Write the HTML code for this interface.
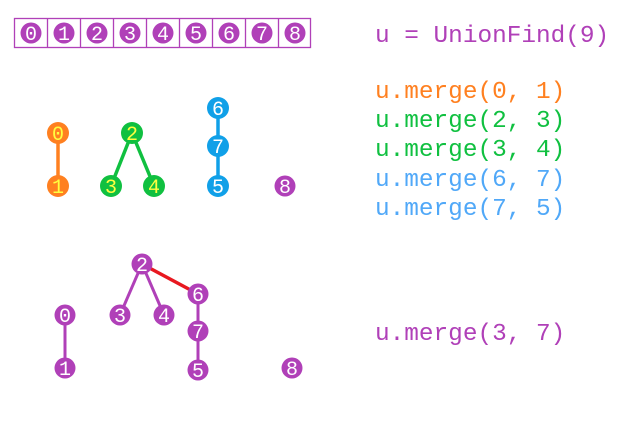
<!DOCTYPE html>
<html><head><meta charset="utf-8"><style>
html,body{margin:0;padding:0;background:#fff;width:633px;height:425px;overflow:hidden}
svg{display:block}
text{font-family:"Liberation Mono","DejaVu Sans Mono",monospace}
</style></head><body>
<svg width="633" height="425" viewBox="0 0 633 425" xmlns="http://www.w3.org/2000/svg">
<g fill="none" stroke="#b040b8" stroke-width="1.3">
<rect x="14.5" y="18.5" width="296" height="29"/>
<line x1="47.5" y1="18" x2="47.5" y2="48"/><line x1="80.5" y1="18" x2="80.5" y2="48"/>
<line x1="113.5" y1="18" x2="113.5" y2="48"/><line x1="146.5" y1="18" x2="146.5" y2="48"/>
<line x1="179.5" y1="18" x2="179.5" y2="48"/><line x1="212.5" y1="18" x2="212.5" y2="48"/>
<line x1="245.5" y1="18" x2="245.5" y2="48"/><line x1="278.5" y1="18" x2="278.5" y2="48"/>
</g>
<g fill="#b040b8">
<circle cx="31" cy="33" r="10.5"/><circle cx="64" cy="33" r="10.5"/><circle cx="97" cy="33" r="10.5"/>
<circle cx="130" cy="33" r="10.5"/><circle cx="163" cy="33" r="10.5"/><circle cx="196" cy="33" r="10.5"/>
<circle cx="229" cy="33" r="10.5"/><circle cx="262" cy="33" r="10.5"/><circle cx="295" cy="33" r="10.5"/>
</g>
<g fill="#fff" font-size="20" text-anchor="middle">
<text x="31" y="40">0</text><text x="64" y="40">1</text><text x="97" y="40">2</text>
<text x="130" y="40">3</text><text x="163" y="40">4</text><text x="196" y="40">5</text>
<text x="229" y="40">6</text><text x="262" y="40">7</text><text x="295" y="40">8</text>
</g>
<line x1="58" y1="133" x2="58" y2="186" stroke="#ff8020" stroke-width="3.5"/>
<line x1="132" y1="133" x2="111" y2="186" stroke="#10c040" stroke-width="3.5"/>
<line x1="132" y1="133" x2="154" y2="186" stroke="#10c040" stroke-width="3.5"/>
<line x1="218" y1="108" x2="218" y2="186" stroke="#10a0e8" stroke-width="3.5"/>
<g fill="#ff8020"><circle cx="58" cy="133" r="11"/><circle cx="58" cy="186" r="11"/></g>
<g fill="#10c040"><circle cx="132" cy="133" r="11"/><circle cx="111" cy="186" r="11"/><circle cx="154" cy="186" r="11"/></g>
<g fill="#10a0e8"><circle cx="218" cy="108" r="11"/><circle cx="218" cy="146" r="11"/><circle cx="218" cy="186" r="11"/></g>
<circle cx="285" cy="186" r="10.5" fill="#b040b8"/>
<g font-size="20" text-anchor="middle">
<text x="58" y="140" fill="#ffff40">0</text><text x="58" y="193" fill="#ffff40">1</text>
<text x="132" y="140" fill="#ffff40">2</text><text x="111" y="193" fill="#ffff40">3</text><text x="154" y="193" fill="#ffff40">4</text>
<text x="218" y="115" fill="#fff">6</text><text x="218" y="153" fill="#fff">7</text><text x="218" y="193" fill="#fff">5</text>
<text x="285" y="193" fill="#fff">8</text>
</g>
<g stroke="#b040b8" stroke-width="3">
<line x1="65" y1="315" x2="65" y2="368"/>
<line x1="142" y1="264" x2="120" y2="315"/><line x1="142" y1="264" x2="164" y2="315"/>
<line x1="198" y1="294" x2="198" y2="370"/>
</g>
<line x1="142" y1="264" x2="198" y2="294" stroke="#e81820" stroke-width="3.5"/>
<g fill="#b040b8">
<circle cx="142" cy="264" r="10.5"/><circle cx="120" cy="315" r="10.5"/><circle cx="164" cy="315" r="10.5"/>
<circle cx="198" cy="294" r="10.5"/><circle cx="198" cy="331" r="10.5"/><circle cx="198" cy="370" r="10.5"/>
<circle cx="65" cy="315" r="10.5"/><circle cx="65" cy="368" r="10.5"/><circle cx="292" cy="368" r="10.5"/>
</g>
<g fill="#fff" font-size="20" text-anchor="middle">
<text x="142" y="271">2</text><text x="120" y="322">3</text><text x="164" y="322">4</text>
<text x="198" y="301">6</text><text x="198" y="338">7</text><text x="198" y="377">5</text>
<text x="65" y="322">0</text><text x="65" y="375">1</text><text x="292" y="375">8</text>
</g>
<g font-size="24.4" xml:space="preserve">
<text x="375" y="42" fill="#b040b8">u = UnionFind(9)</text>
<text x="375" y="98" fill="#ff8020">u.merge(0, 1)</text>
<text x="375" y="127" fill="#10c040">u.merge(2, 3)</text>
<text x="375" y="156" fill="#10c040">u.merge(3, 4)</text>
<text x="375" y="186" fill="#50a8f8">u.merge(6, 7)</text>
<text x="375" y="215" fill="#50a8f8">u.merge(7, 5)</text>
<text x="375" y="340" fill="#b040b8">u.merge(3, 7)</text>
</g>
</svg>
</body></html>
